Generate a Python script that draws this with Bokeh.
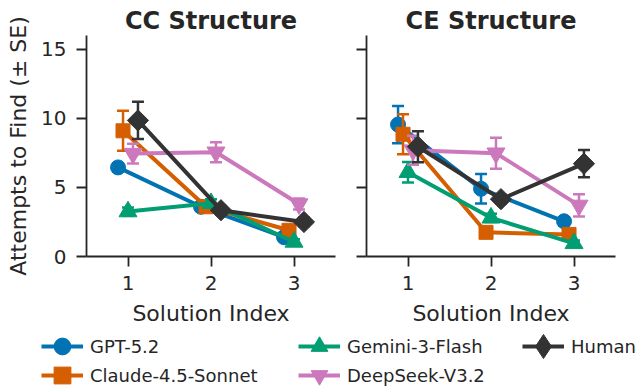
import numpy as np
from bokeh.plotting import figure
from bokeh.models import ColumnDataSource, Range1d, FixedTicker, Legend, LegendItem
from bokeh.layouts import column, row
from bokeh.embed import file_html
from bokeh.resources import INLINE

# ---------------- data ----------------
solution_index = [1, 2, 3]
models = ["GPT-5.2", "Claude-4.5-Sonnet", "Gemini-3-Flash", "DeepSeek-V3.2", "Human"]
y_ticks = [0, 5, 10, 15]

# CC Structure: mean attempts and standard errors
cc_gpt = [6.45, 3.6, 1.4]
cc_gpt_se = [0.3, 0.3, 0.2]
cc_claude = [9.1, 3.6, 1.9]
cc_claude_se = [1.45, 0.35, 0.3]
cc_gemini = [3.25, 3.85, 1.05]
cc_gemini_se = [0.3, 0.3, 0.2]
cc_deepseek = [7.45, 7.55, 3.8]
cc_deepseek_se = [0.72, 0.72, 0.4]
cc_human = [9.85, 3.35, 2.5]
cc_human_se = [1.35, 0.3, 0.3]

# CE Structure
ce_gpt = [9.55, 4.9, 2.55]
ce_gpt_se = [1.35, 1.07, 0.3]
ce_claude = [8.85, 1.75, 1.6]
ce_claude_se = [1.45, 0.3, 0.3]
ce_gemini = [6.1, 2.8, 0.95]
ce_gemini_se = [0.75, 0.3, 0.2]
ce_deepseek = [7.7, 7.48, 3.7]
ce_deepseek_se = [1.05, 1.12, 0.8]
ce_human = [7.95, 4.15, 6.72]
ce_human_se = [1.12, 0.3, 0.99]

# ---------------- styles ----------------
colors = ["#0173b2", "#d55e00", "#029e73", "#cc78bc", "#333333"]
markers = ["circle", "square", "triangle", "inverted_triangle", "square"]
msizes = [15, 14, 18, 18, 15]
angles = [0, 0, 0, 0, np.pi / 4]
dodge = [-0.12, -0.06, 0.0, 0.06, 0.12]
FONT = "DejaVu Sans"
INK = "#262626"

panels = [
    ("CC Structure", [cc_gpt, cc_claude, cc_gemini, cc_deepseek, cc_human],
     [cc_gpt_se, cc_claude_se, cc_gemini_se, cc_deepseek_se, cc_human_se]),
    ("CE Structure", [ce_gpt, ce_claude, ce_gemini, ce_deepseek, ce_human],
     [ce_gpt_se, ce_claude_se, ce_gemini_se, ce_deepseek_se, ce_human_se]),
]

TOP, FRAME_H, BOTTOM = 35, 221, 76
H1 = TOP + FRAME_H + BOTTOM
y_range = Range1d(0, 16)
figs = []
for k, (title, means, ses) in enumerate(panels):
    left = 86 if k == 0 else 21
    right = 10 if k == 0 else 27
    w = left + 249 + right
    p = figure(width=w, height=H1, x_range=Range1d(0.5, 3.5), y_range=y_range,
               toolbar_location=None, output_backend="svg",
               min_border_left=left, min_border_right=right,
               min_border_top=TOP, min_border_bottom=BOTTOM)
    p.title.text = title
    p.title.align = "center"
    p.title.text_font = FONT
    p.title.text_font_size = "24px"
    p.title.text_font_style = "bold"
    p.title.text_color = INK
    p.title.standoff = 2
    p.outline_line_color = None
    p.grid.visible = False
    p.background_fill_color = "white"
    p.border_fill_color = "white"

    for ax in (p.xaxis[0], p.yaxis[0]):
        ax.axis_line_color = INK
        ax.axis_line_width = 1.8
        ax.major_tick_line_color = INK
        ax.major_tick_line_width = 1.8
        ax.major_tick_out = 10
        ax.major_tick_in = 0
        ax.minor_tick_line_color = None
        ax.major_label_text_font = FONT
        ax.major_label_text_font_size = "20px"
        ax.major_label_text_color = INK
        ax.axis_label_text_font = FONT
        ax.axis_label_text_font_size = "22px"
        ax.axis_label_text_font_style = "normal"
        ax.axis_label_text_color = INK
    p.xaxis.ticker = FixedTicker(ticks=solution_index)
    p.yaxis.ticker = FixedTicker(ticks=y_ticks)
    p.xaxis.axis_label = "Solution Index"
    p.xaxis.major_label_standoff = 9
    p.xaxis.axis_label_standoff = 8
    if k == 0:
        p.yaxis.axis_label = "Attempts to Find (\u00b1 SE)"
        p.yaxis.major_label_standoff = 10
        p.yaxis.axis_label_standoff = 7
    else:
        # shared y axis: tick marks only, no tick labels
        p.yaxis.major_label_overrides = {t: "" for t in y_ticks}
        p.yaxis.major_label_standoff = 0

    for i, name in enumerate(models):
        xs = [s + dodge[i] for s in solution_index]
        m = means[i]
        se = ses[i]
        src = ColumnDataSource(dict(
            x=xs, y=m,
            upper=[a + b for a, b in zip(m, se)],
            lower=[a - b for a, b in zip(m, se)],
        ))
        c = colors[i]
        p.line("x", "y", source=src, line_width=4, line_color=c, line_join="round")
        p.segment(x0="x", y0="lower", x1="x", y1="upper", source=src,
                  line_width=2.5, line_color=c)
        p.scatter("x", "upper", source=src, marker="dash", size=12,
                  line_width=2.5, line_color=c)
        p.scatter("x", "lower", source=src, marker="dash", size=12,
                  line_width=2.5, line_color=c)
        p.scatter("x", "y", source=src, marker=markers[i], size=msizes[i],
                  angle=angles[i], fill_color=c, line_color=c, line_width=1)
    figs.append(p)

# ---------------- legend panel ----------------
LH = 387 - H1
pl = figure(width=642, height=LH,
            x_range=Range1d(0, 1), y_range=Range1d(0, 1),
            toolbar_location=None, output_backend="svg", min_border=0)
pl.axis.visible = False
pl.grid.visible = False
pl.outline_line_color = None

GW, GH = 42, 42
row_centers = [14, 43]
col_x = [41, 298, 522]
slots = [(0, 0), (0, 1), (1, 0), (1, 1), (2, 0)]
legend_markers = ["circle", "square", "triangle", "inverted_triangle", None]


def add_legend(item, x, y, gw, gh, label_size="18px"):
    lg = Legend(items=[item], location=(x, y),
                orientation="vertical", padding=0, margin=0, spacing=0,
                glyph_width=gw, glyph_height=gh, label_height=20,
                label_standoff=7, label_text_font=FONT,
                label_text_font_size=label_size, label_text_color=INK,
                border_line_color=None, background_fill_alpha=0)
    pl.add_layout(lg, "center")


for i, name in enumerate(models):
    c = colors[i]
    ci, ri = slots[i]
    cx = row_centers[ri]
    # off-range sample points: only the legend swatches are visible
    r1 = pl.line(x=[-5, -4], y=[-5, -5], line_width=4, line_color=c)
    if legend_markers[i] is not None:
        r2 = pl.scatter(x=[-5], y=[-5], marker=legend_markers[i],
                        fill_color=c, line_color=c)
        add_legend(LegendItem(label=name, renderers=[r1, r2]),
                   col_x[ci], LH - cx - GH // 2, GW, GH)
    else:
        r2 = pl.scatter(x=[-5], y=[-5], marker="diamond",
                        fill_color=c, line_color=c)
        big = 60
        # larger swatch box only for the diamond (legend marker size follows box)
        add_legend(LegendItem(label="", renderers=[r2]),
                   col_x[ci] + GW // 2 - big // 2, LH - cx - big // 2, big, big)
        add_legend(LegendItem(label=name, renderers=[r1]),
                   col_x[ci], LH - cx - GH // 2, GW, GH)

layout = column(row(figs[0], figs[1]), pl)
open("out.html", "w").write(file_html(layout, INLINE))
